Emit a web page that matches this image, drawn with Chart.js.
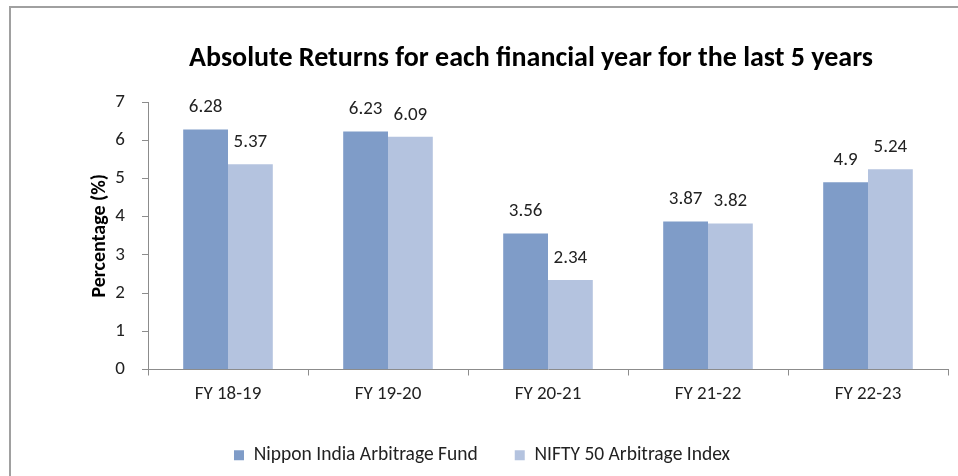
<!DOCTYPE html>
<html>
<head>
<meta charset="utf-8">
<script src="https://cdn.jsdelivr.net/npm/chart.js@4"></script>
<style>
  html, body { margin: 0; padding: 0; background: #fff; }
  #wrap { position: relative; width: 958px; height: 476px; }
  #frame { position: absolute; left: 9px; top: 6px; right: -2px; bottom: -2px; border-left: 2px solid #a0a0a0; border-top: 2px solid #a0a0a0; }
  canvas { position: absolute; left: 0; top: 0; }
</style>
</head>
<body>
<div id="wrap">
  <div id="frame"></div>
  <canvas id="returnsChart" width="958" height="476"></canvas>
</div>
<script>
// Data
const years = ["FY 18-19", "FY 19-20", "FY 20-21", "FY 21-22", "FY 22-23"];
const fundReturns = [6.28, 6.23, 3.56, 3.87, 4.9];
const indexReturns = [5.37, 6.09, 2.34, 3.82, 5.24];
const seriesNames = ["Nippon India Arbitrage Fund", "NIFTY 50 Arbitrage Index"];
const yTicks = [0, 1, 2, 3, 4, 5, 6, 7];

const FONT = "Carlito, Lato, 'Open Sans', sans-serif";

// Title drawn by hand so it can sit off-centre like the original
const titlePlugin = {
  id: "customTitle",
  afterDraw(chart) {
    const ctx = chart.ctx;
    ctx.save();
    ctx.font = "bold 28px " + FONT;
    ctx.fillStyle = "#000";
    ctx.textAlign = "center";
    ctx.textBaseline = "middle";
    ctx.fillText("Absolute Returns for each financial year for the last 5 years", 531, 59);
    ctx.restore();
  },
};

// Value labels above bars
const valueLabels = {
  id: "valueLabels",
  afterDatasetsDraw(chart) {
    const ctx = chart.ctx;
    ctx.save();
    ctx.font = "19px " + FONT;
    ctx.fillStyle = "#222";
    ctx.textAlign = "center";
    ctx.textBaseline = "middle";
    chart.data.datasets.forEach((ds, i) => {
      chart.getDatasetMeta(i).data.forEach((bar, j) => {
        ctx.fillText(String(ds.data[j]), bar.x, bar.y - 22);
      });
    });
    ctx.restore();
  },
};

document.addEventListener("DOMContentLoaded", function () {
  const ctx = document.getElementById("returnsChart");
  new Chart(ctx, {
    type: "bar",
    data: {
      labels: years,
      datasets: [
        {
          label: seriesNames[0],
          data: fundReturns,
          backgroundColor: "#7f9cc8",
          borderWidth: 0,
        },
        {
          label: seriesNames[1],
          data: indexReturns,
          backgroundColor: "#b4c3df",
          borderWidth: 0,
        },
      ],
    },
    options: {
      responsive: false,
      animation: false,
      layout: { padding: { left: 16, right: 10, top: 102, bottom: 1 } },
      datasets: {
        bar: { categoryPercentage: 0.56, barPercentage: 1.0 },
      },
      plugins: {
        title: { display: false },
        tooltip: { enabled: false },
        legend: {
          position: "bottom",
          labels: {
            boxWidth: 10,
            boxHeight: 10,
            padding: 37,
            color: "#222",
            font: { family: FONT, size: 19.5 },
          },
        },
      },
      scales: {
        y: {
          min: 0,
          max: 7,
          afterBuildTicks: (scale) => {
            scale.ticks = yTicks.map((v) => ({ value: v }));
          },
          afterFit: (scale) => {
            scale.width = 132;
          },
          border: { color: "#8c8c8c", width: 1 },
          grid: { drawOnChartArea: false, tickLength: 6, color: "#8c8c8c" },
          ticks: { padding: 17, color: "#222", font: { family: FONT, size: 19 } },
          title: {
            display: true,
            text: "Percentage (%)",
            color: "#000",
            font: { family: FONT, size: 20, weight: "bold" },
            padding: { top: 72, bottom: 0 },
          },
        },
        x: {
          afterFit: (scale) => {
            scale.height = 39;
          },
          border: { color: "#8c8c8c", width: 1 },
          grid: { drawOnChartArea: false, tickLength: 6, color: "#8c8c8c", offset: true },
          ticks: { padding: 7, color: "#222", font: { family: FONT, size: 19 } },
        },
      },
    },
    plugins: [titlePlugin, valueLabels],
  });
});
</script>
</body>
</html>
